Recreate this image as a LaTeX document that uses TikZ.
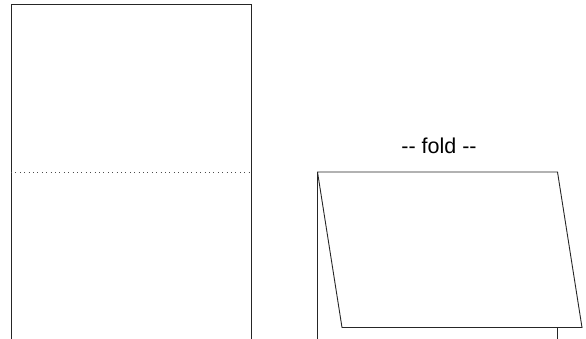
\documentclass[tikz,border=0pt]{standalone}
\usepackage{fontspec}
\setmainfont{Liberation Sans}
\tikzset{
  edge/.style={draw=black!85, line width=0.9pt},
  foldline/.style={draw=black!70, line width=0.9pt, dash pattern=on 1pt off 3.4pt},
  label/.style={font=\fontsize{21.5}{24}\selectfont, inner sep=0pt, anchor=base}
}
\begin{document}
\begin{tikzpicture}[x=1pt,y=-1pt]
\useasboundingbox (0,0) rectangle (586,339);
% flat sheet
\coordinate (lbl) at (11,340);
\coordinate (ltl) at (11,4);
\coordinate (ltr) at (251,4);
\coordinate (lbr) at (251,340);
\draw[edge] (lbl) -- (ltl) -- (ltr) -- (lbr);
\coordinate (fl) at (11,172);
\coordinate (fr) at (251,172);
\draw[foldline] (fl) -- (fr);
% folded sheet
\coordinate (a) at (317.5,172);
\coordinate (b) at (557.5,172);
\coordinate (c) at (582,327.5);
\coordinate (d) at (342,327.5);
\coordinate (abot) at (317.5,340);
\coordinate (bbot) at (557,327.5);
\coordinate (bbot2) at (557,340);
\draw[edge] (abot) -- (a) -- (b) -- (c) -- (d) -- (a);
\draw[edge] (bbot) -- (bbot2);
\node[label] (fold) at (439,154) {{-}{-} fold {-}{-}};
\end{tikzpicture}
\end{document}
